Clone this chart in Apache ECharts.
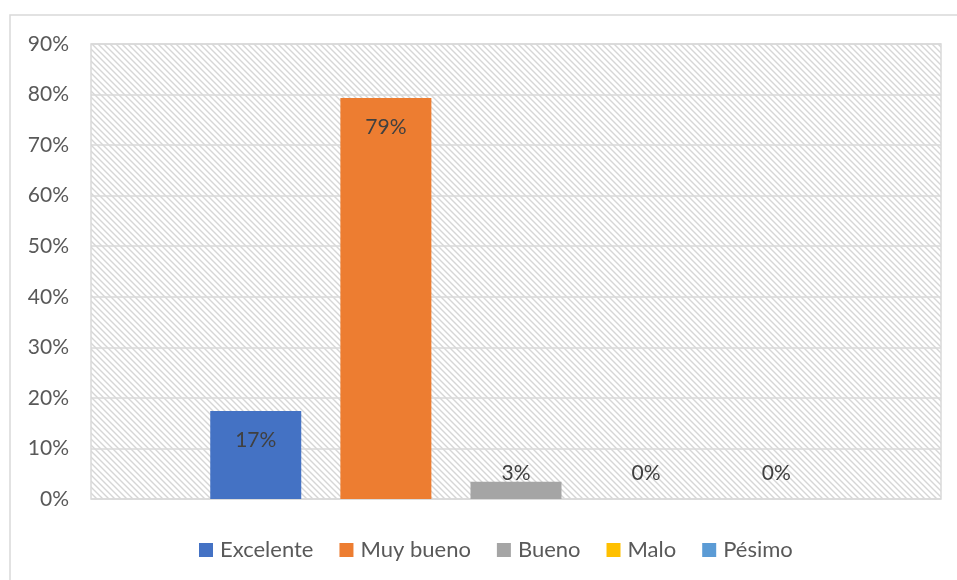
<!DOCTYPE html>
<html><head><meta charset="utf-8">
<script src="https://cdn.jsdelivr.net/npm/echarts@6/dist/echarts.min.js"></script>
<style>html,body{margin:0;padding:0;background:#fff}#c{width:957px;height:580px}</style>
</head><body><div id="c"></div>
<script>
const categories = [''];
const seriesNames = ['Excelente', 'Muy bueno', 'Bueno', 'Malo', 'Pésimo'];
const seriesValues = [0.174, 0.793, 0.034, 0, 0];
const seriesColors = ['#4472C4', '#ED7D31', '#A5A5A5', '#FFC000', '#5B9BD5'];
const yTicks = [0, 0.1, 0.2, 0.3, 0.4, 0.5, 0.6, 0.7, 0.8, 0.9];

const tile = document.createElement('canvas');
tile.width = 6; tile.height = 6;
const tc = tile.getContext('2d');
tc.fillStyle = '#ffffff'; tc.fillRect(0,0,6,6);
tc.strokeStyle = '#d6d6d6'; tc.lineWidth = 1.4;
tc.beginPath();
tc.moveTo(-1,-1); tc.lineTo(7,7);
tc.moveTo(-1,5); tc.lineTo(1,7);
tc.moveTo(5,-1); tc.lineTo(7,1);
tc.stroke();

const font = 'Lato, "Open Sans", sans-serif';
const labelCfg = [
  {position: 'insideTop', distance: 19},
  {position: 'insideTop', distance: 19},
  {position: 'top', distance: -2},
  {position: 'top', distance: 15},
  {position: 'top', distance: 15}
];

const chart = echarts.init(document.getElementById('c'), null, {renderer: 'canvas'});
chart.setOption({
  animation: false,
  textStyle: {fontFamily: font},
  graphic: [{
    type: 'rect', shape: {x: 10, y: 15, width: 960, height: 600},
    style: {fill: 'none', stroke: '#d9d9d9', lineWidth: 1.5}, z: -10
  }],
  grid: {
    left: 91, right: 16, top: 44, bottom: 81,
    show: true,
    backgroundColor: {image: tile, repeat: 'repeat'},
    borderColor: '#d9d9d9', borderWidth: 1.5
  },
  legend: {
    data: seriesNames,
    bottom: 14, left: 194,
    itemWidth: 14, itemHeight: 14, itemGap: 26,
    icon: 'rect',
    textStyle: {fontSize: 22, color: '#595959', fontFamily: font, padding: [0,0,0,2]}
  },
  xAxis: {
    type: 'category', data: categories,
    axisLine: {show: false}, axisTick: {show: false}, axisLabel: {show: false}
  },
  yAxis: {
    type: 'value', min: 0, max: 0.9, interval: 0.1,
    axisLine: {show: false}, axisTick: {show: false},
    splitLine: {lineStyle: {color: '#d9d9d9', width: 1.5}},
    axisLabel: {
      fontSize: 21, color: '#595959', fontFamily: font, margin: 22,
      formatter: v => { const t = yTicks.find(x => Math.abs(x - v) < 1e-9); return Math.round((t !== undefined ? t : v) * 100) + '%'; }
    }
  },
  series: seriesNames.map((n, i) => ({
    type: 'bar', name: n,
    data: [seriesValues[i]],
    barWidth: 91, barGap: '43%',
    itemStyle: {color: seriesColors[i]},
    label: {
      show: true, position: labelCfg[i].position, distance: labelCfg[i].distance,
      fontSize: 21, color: '#404040', fontFamily: font,
      formatter: p => Math.round(p.value * 100) + '%'
    }
  }))
});
</script></body></html>
